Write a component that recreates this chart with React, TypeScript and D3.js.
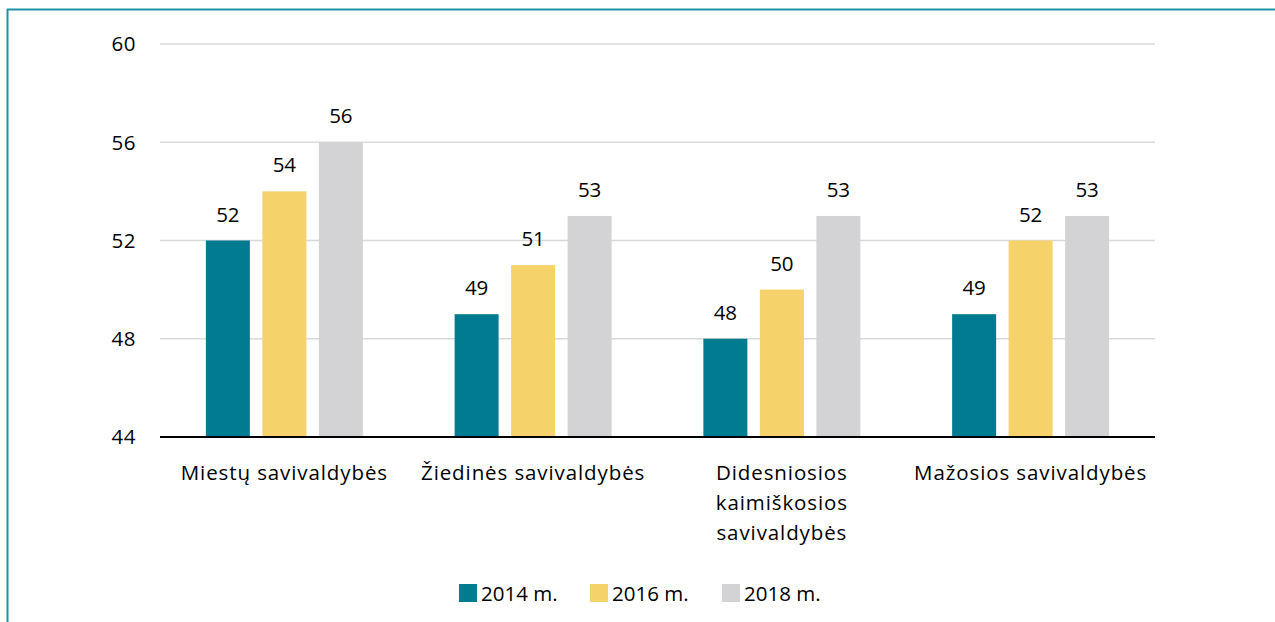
import React from "react";
import * as d3 from "d3";

const categories = [
  ["Miestų savivaldybės"],
  ["Žiedinės savivaldybės"],
  ["Didesniosios", "kaimiškosios", "savivaldybės"],
  ["Mažosios savivaldybės"],
];
const seriesNames = ["2014 m.", "2016 m.", "2018 m."];
const values2014 = [52, 49, 48, 49];
const values2016 = [54, 51, 50, 52];
const values2018 = [56, 53, 53, 53];
const yTicks = [44, 48, 52, 56, 60];
const colors = ["#007B8F", "#F5D36A", "#D3D3D5"];

export default function App() {
  const W = 1275, H = 622;
  const left = 160, right = 1155, top = 44, bottom = 437;
  const font = "'Open Sans', sans-serif";
  const fs = 20.5;
  const x = d3.scaleBand<number>().domain(d3.range(categories.length)).range([left, right]);
  const y = d3.scaleLinear().domain([44, 60]).range([bottom, top]);
  const series = [values2014, values2016, values2018];
  const barW = 44, step = 56.5;
  return (
    <svg width={W} height={H} style={{ position: "absolute", left: 0, top: 0, background: "#fff" }}>
      <line x1={7} y1={9.5} x2={W} y2={9.5} stroke="#1A94A4" strokeWidth={2} />
      <line x1={7.5} y1={9} x2={7.5} y2={H} stroke="#1A94A4" strokeWidth={2} />
      {yTicks.map((t) => (
        <g key={t}>
          {t !== 44 && <line x1={left} x2={right} y1={y(t)} y2={y(t)} stroke="#D9D9D9" strokeWidth={1.5} />}
          <text x={136} y={y(t)} dy="0.36em" textAnchor="end" fontFamily={font} fontSize={fs} fill="#000" letterSpacing={0.5}>{t}</text>
        </g>
      ))}
      {series.map((vals, si) =>
        vals.map((v, ci) => {
          const cx = x(ci)! + x.bandwidth() / 2 + (si - 1) * step;
          return (
            <g key={si + "-" + ci}>
              <rect x={cx - barW / 2} y={y(v)} width={barW} height={y(44) - y(v)} fill={colors[si]} />
              <text x={cx} y={y(v) - 19} textAnchor="middle" fontFamily={font} fontSize={fs} fill="#000">{v}</text>
            </g>
          );
        })
      )}
      <line x1={left} x2={right} y1={bottom} y2={bottom} stroke="#000" strokeWidth={2} />
      {categories.map((lines, ci) => (
        <text key={ci} textAnchor="middle" fontFamily={font} fontSize={fs} fill="#000" letterSpacing={0.9}>
          {lines.map((l, li) => (
            <tspan key={li} x={x(ci)! + x.bandwidth() / 2} y={480 + li * 30}>{l}</tspan>
          ))}
        </text>
      ))}
      {seriesNames.map((n, i) => {
        const lx = [459, 590, 722][i];
        return (
          <g key={n}>
            <rect x={lx} y={584} width={18} height={18} fill={colors[i]} />
            <text x={lx + 22} y={601} fontFamily={font} fontSize={fs} fill="#000">{n}</text>
          </g>
        );
      })}
    </svg>
  );
}
